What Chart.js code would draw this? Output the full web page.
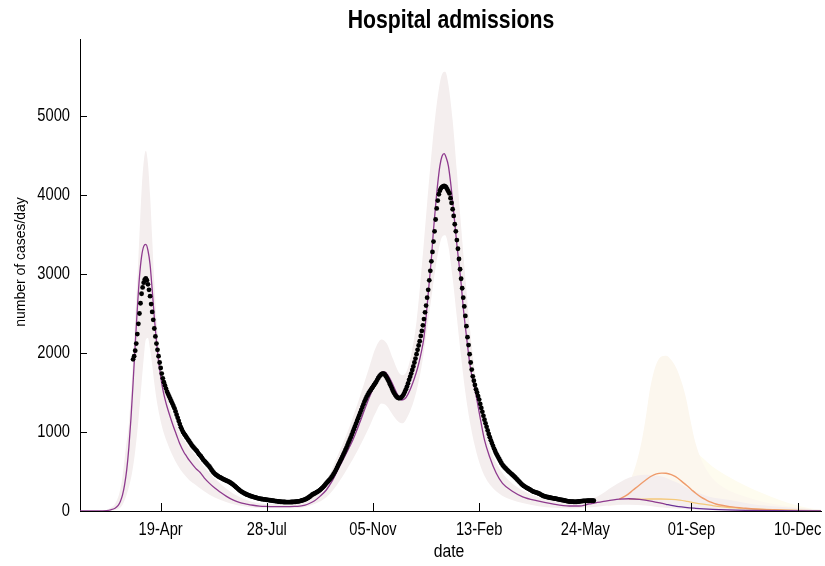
<!DOCTYPE html>
<html>
<head>
<meta charset="utf-8">
<title>Hospital admissions</title>
<script src="https://cdn.jsdelivr.net/npm/chart.js@4.4.1/dist/chart.umd.min.js"></script>
<style>
  html, body { margin: 0; padding: 0; background: #fff; }
  #chart { display: block; }
</style>
</head>
<body>
<canvas id="chart" width="825" height="566"></canvas>
<script>
// x values are day numbers counted from 2020-01-01 (day 0)
const xMin = 33;   // 03-Feb-2020
const xMax = 731;  // 01-Jan-2022
const xTickDays = [109, 209, 309, 409, 509, 609, 709];
const xTickLabels = ['19-Apr', '28-Jul', '05-Nov', '13-Feb', '24-May', '01-Sep', '10-Dec'];
const yTicks = [0, 1000, 2000, 3000, 4000, 5000];

// observed admissions, one value per day from day 83 (23-Mar-2020)
const obsStart = 83;
const obsValues = [
  1920,1960,2030,2120,2240,2370,2500,2630,2750,2830,
  2890,2930,2945,2920,2870,2800,2720,2620,2520,2420,
  2310,2210,2120,2040,1960,1880,1810,1740,1680,1630,
  1590,1550,1510,1480,1450,1420,1390,1360,1330,1300,
  1260,1220,1180,1140,1100,1060,1030,1000,980,960,
  940,920,900,880,860,840,820,805,790,775,
  760,740,720,705,690,670,650,635,620,605,
  590,575,560,540,520,500,485,470,460,450,
  440,432,425,418,410,403,396,390,384,378,
  372,364,356,346,336,325,314,302,290,278,
  266,256,246,238,230,222,215,209,203,198,
  193,188,184,180,176,172,168,164,160,157,
  154,152,150,148,146,144,142,140,138,136,
  134,132,130,128,126,124,122,120,118,117,
  116,115,114,114,113,113,113,113,113,114,
  114,115,116,117,119,121,123,126,129,133,
  137,142,147,153,160,168,177,187,198,210,
  215,222,230,238,246,255,265,277,290,303,
  318,333,350,365,380,395,410,428,448,470,
  493,518,545,573,600,628,656,684,713,742,
  772,802,835,868,900,932,965,1000,1035,1070,
  1105,1140,1175,1210,1245,1280,1315,1350,1385,1415,
  1445,1470,1495,1515,1535,1555,1575,1595,1615,1635,
  1660,1685,1705,1720,1733,1740,1738,1728,1710,1688,
  1662,1635,1605,1575,1545,1515,1490,1468,1450,1437,
  1430,1428,1432,1442,1458,1480,1508,1540,1575,1615,
  1660,1700,1740,1785,1830,1880,1930,1985,2040,2095,
  2150,2215,2280,2350,2430,2515,2600,2700,2800,2920,
  3040,3160,3280,3410,3540,3690,3830,3930,4010,4055,
  4085,4100,4110,4115,4110,4095,4070,4045,4020,3960,
  3900,3820,3735,3630,3540,3430,3320,3190,3060,2940,
  2820,2700,2590,2470,2340,2200,2100,1985,1880,1790,
  1705,1650,1595,1540,1500,1455,1410,1355,1305,1255,
  1205,1155,1110,1065,1020,975,935,895,860,825,
  790,760,730,705,680,655,630,605,585,568,
  552,538,524,511,498,486,474,462,450,438,
  424,410,396,382,368,354,340,328,318,309,
  300,292,285,278,270,262,252,246,241,237,
  233,228,222,216,208,200,193,188,184,180,
  177,174,171,168,165,162,160,158,156,153,
  150,147,144,141,139,137,134,131,128,125,
  122,120,119,118,118,117,116,116,117,118,
  120,122,124,126,127,128,128,129,130,130,
  131,132,132,131,130
];

// model fit (purple line)
const fitDays = [33,50,58,62,66,69,71,73,75,77,79,81,83,85,87,89,91,93,95,97,99,101,103,105,107,109,111,113,115,118,121,124,127,131,133,136,142,146,150,155,160,165,171,177,183,190,196,202,208,215,227,235,240,245,249,254,259,265,271,277,284,290,296,301,305,309,313,317,320,323,327,330,333,336,339,342,345,348,351,354,357,360,362,364,366,368,370,372,374,376,378,380,382,384,386,388,390,392,394,396,398,400,402,405,409,414,419,425,431,441,450,463,478,494,503,513,525,541,550,560,572,585,597,613,629,660,692,731];
const fitValues = [0,1,6,15,35,70,120,200,330,520,800,1170,1620,2100,2560,2960,3220,3350,3375,3300,3120,2800,2450,2150,1900,1700,1540,1420,1320,1190,1070,960,850,740,700,640,540,490,420,350,290,240,185,140,110,88,73,63,58,55,55,58,63,75,95,130,185,266,390,550,735,900,1100,1280,1420,1550,1680,1755,1760,1720,1620,1530,1450,1405,1420,1480,1570,1680,1810,1980,2200,2600,2900,3200,3560,3870,4150,4370,4490,4525,4470,4370,4170,3920,3650,3370,3130,2880,2580,2330,2100,1880,1720,1540,1250,900,680,480,350,244,180,130,89,63,63,89,118,150,155,148,123,85,55,34,21,9,4,1];

// uncertainty band around the fit
const bandDays = [33,55,62,66,70,73,76,79,82,85,88,91,93,95,97,99,101,103,105,108,111,115,120,125,130,136,142,150,160,175,190,210,230,245,255,265,275,285,295,305,311,317,322,328,333,337,341,345,350,355,360,365,370,374,377,380,384,388,392,396,400,405,410,415,420,430,440,450,465,480,495,510,520,535,550,566,575,582,590,597,605,613,625,645,665,692,731];
const bandLow = [0,0,4,12,35,80,170,300,480,760,1150,1620,1930,2170,2190,2050,1850,1620,1420,1200,1030,870,710,580,480,390,330,250,170,95,55,35,35,50,95,175,330,540,780,1050,1230,1360,1330,1210,1130,1110,1180,1300,1520,1850,2300,2800,3250,3470,3490,3350,2950,2450,1950,1500,1150,820,580,420,320,200,140,100,60,40,32,45,55,75,80,70,55,45,35,28,20,15,10,5,3,1,0];
const bandHigh = [0,4,40,90,220,430,780,1100,1700,2450,3200,4050,4420,4560,4400,4000,3450,2900,2450,2000,1700,1450,1220,1050,920,800,700,560,410,240,140,90,90,120,220,380,680,1000,1380,1800,2050,2170,2120,1920,1760,1720,1780,1980,2400,3100,3900,4650,5250,5530,5560,5400,4950,4300,3600,2950,2350,1750,1300,980,760,500,350,260,175,125,100,140,180,310,420,460,450,434,390,350,290,244,185,139,90,55,15];

// scenario A (orange line) and its band
const scenADays = [541,548,554,560,566,571,576,581,585,590,594,599,604,609,613,618,623,628,632,645,660,675,692,710,731];
const scenAValues = [150,200,265,330,392,440,470,480,478,460,434,385,329,270,224,175,139,108,89,55,34,20,13,6,2];
const scenABandDays = [530,541,550,558,563,566,570,575,580,585,590,595,600,604,608,613,620,629,640,650,660,675,692,710,731];
const scenABandLow = [60,80,100,110,110,110,110,110,110,105,95,85,70,60,50,40,30,20,12,8,5,3,2,1,0];
const scenABandHigh = [120,200,350,650,950,1190,1550,1830,1950,1965,1910,1800,1620,1420,1150,850,600,410,290,225,181,120,76,40,15];

// scenario B (yellow line) and its band
const scenBDays = [550,560,570,580,590,598,605,612,620,628,636,645,654,665,679,695,710,731];
const scenBValues = [152,150,152,152,148,138,122,104,86,70,55,44,34,27,20,11,5,2];
const scenBBandDays = [550,565,580,595,605,612,618,629,644,660,676,692,707,720,731];
const scenBBandLow = [100,100,95,85,75,65,55,40,25,15,8,4,2,1,0];
const scenBBandHigh = [200,330,500,700,780,760,690,561,434,320,224,140,76,35,15];

const FONT = "'Liberation Sans', Arial, sans-serif";
Chart.defaults.font.family = FONT;

function pts(xs, ys) {
  return xs.map((x, i) => ({ x: x, y: ys[i] }));
}

const purple = '#8e3a8e';
const violet = '#6a3096';

function bandLine(data, order) {
  return {
    data: data, order: order, borderWidth: 0, borderColor: 'rgba(0,0,0,0)',
    pointRadius: 0, cubicInterpolationMode: 'monotone', fill: false
  };
}

const datasets = [
  // 0 observed
  {
    data: obsValues.map((v, i) => ({ x: obsStart + i, y: v })),
    showLine: false, pointRadius: 2.4, pointBorderWidth: 0,
    pointBackgroundColor: '#000', borderColor: '#000', order: 0
  },
  // 1 fit
  {
    data: pts(fitDays, fitValues), borderColor: purple, borderWidth: 1.3,
    pointRadius: 0, cubicInterpolationMode: 'monotone', order: 1,
    segment: { borderColor: c => c.p0.parsed.x >= 585 ? violet : purple }
  },
  // 2 scenario A
  {
    data: pts(scenADays, scenAValues), borderColor: '#ef9b6b', borderWidth: 1.4,
    pointRadius: 0, cubicInterpolationMode: 'monotone', order: 3
  },
  // 3 scenario B
  {
    data: pts(scenBDays, scenBValues), borderColor: '#f4c87a', borderWidth: 1.3,
    pointRadius: 0, cubicInterpolationMode: 'monotone', order: 4
  },
  // 4,5 fit band
  Object.assign(bandLine(pts(bandDays, bandHigh), 10), { fill: { target: 5 }, backgroundColor: '#f4eeee' }),
  bandLine(pts(bandDays, bandLow), 11),
  // 6,7 scenario A band
  Object.assign(bandLine(pts(scenABandDays, scenABandHigh), 20), { fill: { target: 7 }, backgroundColor: '#fcf7ee' }),
  bandLine(pts(scenABandDays, scenABandLow), 21),
  // 8,9 scenario B band
  Object.assign(bandLine(pts(scenBBandDays, scenBBandHigh), 30), { fill: { target: 9 }, backgroundColor: '#fefcef' }),
  bandLine(pts(scenBBandDays, scenBBandLow), 31)
];

// text squeezed sideways to look like the narrow font of the original
function narrowText(c, txt, x, y, size, opts) {
  opts = opts || {};
  c.save();
  c.translate(x, y);
  if (opts.rotate) c.rotate(opts.rotate);
  c.scale(opts.sx || 0.84, 1);
  c.font = (opts.weight || 'normal') + ' ' + size + 'px ' + FONT;
  c.fillStyle = '#000';
  c.textAlign = opts.align || 'center';
  c.textBaseline = 'middle';
  c.fillText(txt, 0, 0);
  c.restore();
}

// inside tick marks, tick labels, axis titles and the title
const axisExtras = {
  id: 'axisExtras',
  afterDraw(chart) {
    const c = chart.ctx;
    const xs = chart.scales.x, ys = chart.scales.y;
    const area = chart.chartArea;
    c.save();
    c.strokeStyle = '#000';
    c.lineWidth = 1;
    c.beginPath();
    xs.ticks.forEach(t => {
      const px = Math.round(xs.getPixelForValue(t.value)) + 0.5;
      c.moveTo(px, area.bottom);
      c.lineTo(px, area.bottom - 8);
    });
    ys.ticks.forEach(t => {
      const py = Math.round(ys.getPixelForValue(t.value)) + 0.5;
      c.moveTo(area.left, py);
      c.lineTo(area.left + 7, py);
    });
    c.stroke();
    c.restore();

    xs.ticks.forEach(t => {
      const lbl = xTickLabels[xTickDays.indexOf(t.value)];
      narrowText(c, lbl, xs.getPixelForValue(t.value), 530, 17.5);
    });
    ys.ticks.forEach(t => {
      narrowText(c, String(t.value), area.left - 10, ys.getPixelForValue(t.value), 17.5, { align: 'right' });
    });
    narrowText(c, 'date', 449, 552, 17.5, { sx: 0.9 });
    narrowText(c, 'number of cases/day', 21, 262, 15.5, { sx: 0.9, rotate: -Math.PI / 2 });
    narrowText(c, 'Hospital admissions', 451, 21, 25, { weight: 'bold', sx: 0.85 });
  }
};

new Chart(document.getElementById('chart'), {
  type: 'line',
  data: { datasets: datasets },
  plugins: [axisExtras],
  options: {
    responsive: false,
    animation: false,
    events: [],
    layout: { padding: { left: 0, right: 3, top: 39, bottom: 0 } },
    plugins: {
      legend: { display: false },
      tooltip: { enabled: false },
      title: { display: false }
    },
    scales: {
      x: {
        type: 'linear', min: xMin, max: xMax,
        grid: { display: false, drawTicks: false },
        border: { display: true, color: '#000', width: 1 },
        afterBuildTicks: s => { s.ticks = xTickDays.map(v => ({ value: v })); },
        afterFit: s => { s.height = 55; },
        ticks: { display: false }
      },
      y: {
        type: 'linear', min: 0, max: 5975,
        grid: { display: false, drawTicks: false },
        border: { display: true, color: '#000', width: 1 },
        afterBuildTicks: s => { s.ticks = yTicks.map(v => ({ value: v })); },
        afterFit: s => { s.width = 80; },
        ticks: { display: false }
      }
    }
  }
});
</script>
</body>
</html>
